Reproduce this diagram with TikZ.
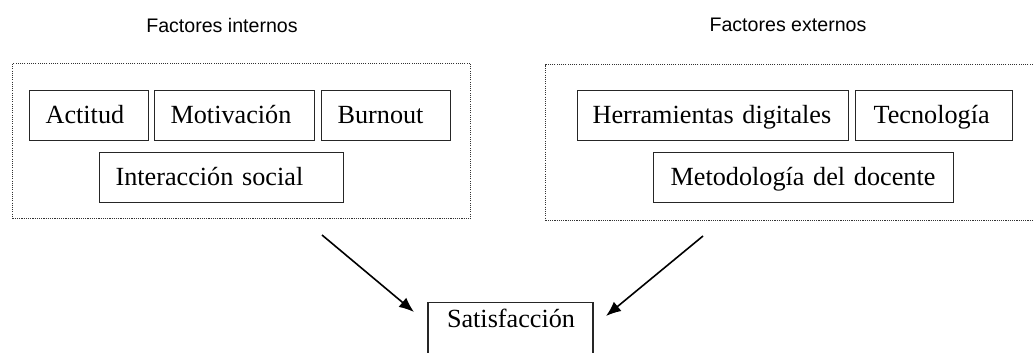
\documentclass[tikz,border=0pt]{standalone}
\usepackage{fontspec}
\setmainfont{Liberation Serif}
\newfontfamily\titlefont{Liberation Sans}
\usetikzlibrary{arrows.meta}
\begin{document}
\begin{tikzpicture}[x=1pt,y=-1pt,
  itembox/.style={draw=black!85,line width=1.2pt,minimum height=50pt,inner xsep=16pt,inner ysep=0pt,
    text height=19pt,text depth=4pt,align=left,font=\fontsize{26.2}{28}\selectfont,anchor=north west},
  groupbox/.style={draw=black!80,line width=1.2pt,dash pattern=on 1.1pt off 1.1pt,inner sep=0pt,anchor=north west},
  grouptitle/.style={font=\titlefont\fontsize{19.6}{22}\selectfont,inner sep=0pt},
  arr/.style={line width=1.6pt,-{Latex[length=15pt,width=12pt]}}]
\useasboundingbox (0,0) rectangle (1033,353);
\clip (0,0) rectangle (1033,353);
% titles
\node[grouptitle] (ti) at (222,25) {Factores internos};
\node[grouptitle] (te) at (788,25) {Factores externos};
% dotted group boxes
\node[groupbox,minimum width=458pt,minimum height=155pt] (gi) at (12,63) {};
\node[groupbox,minimum width=500pt,minimum height=156pt] (ge) at (545,64) {};
% internal factors
\node[itembox,text width=87pt] (act) at (29,90) {Actitud};
\node[itembox,text width=128pt] (mot) at (154,90) {Motivación};
\node[itembox,text width=97pt] (bur) at (321,90) {Burnout};
\node[itembox,text width=212pt] (inter) at (99,152) {Interacción social};
% external factors
\node[itembox,text width=241pt,inner xsep=15pt] (her) at (577,90) {Herramientas digitales};
\node[itembox,text width=121pt,inner xsep=18pt] (tec) at (855,90) {Tecnología};
\node[itembox,text width=266pt,inner xsep=17pt] (met) at (653,152) {Metodología del docente};
% satisfaction
\node[draw=black!85,line width=1.2pt,text width=127pt,inner xsep=19pt,inner ysep=7pt,text height=18pt,text depth=45pt,align=left,anchor=north,font=\fontsize{26.2}{28}\selectfont] (sat) at (510.5,302) {Satisfacción};
% arrows
\coordinate (a1s) at (322,235);
\coordinate (a1e) at (414,312);
\coordinate (a2s) at (703,236);
\coordinate (a2e) at (606,316);
\draw[arr] (a1s) -- (a1e);
\draw[arr] (a2s) -- (a2e);
\end{tikzpicture}
\end{document}
